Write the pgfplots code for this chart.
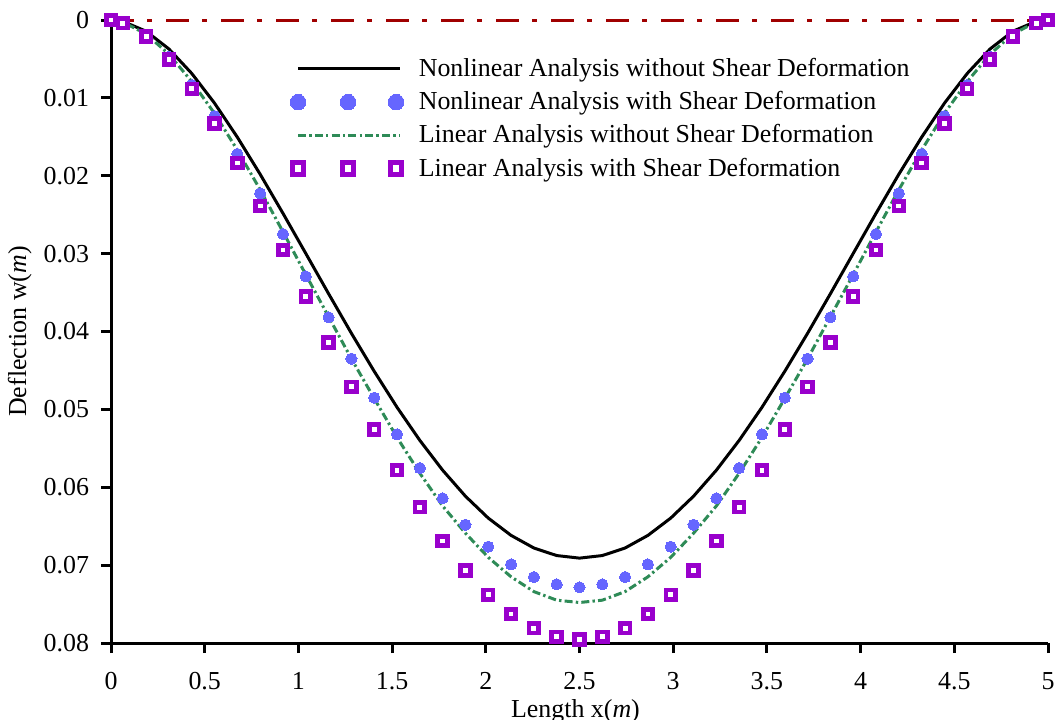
\documentclass[border=0pt]{standalone}
\usepackage{pgfplots}
\usepackage{pgfplotstable}
\pgfplotsset{compat=1.18}
\usepackage{fontspec}
\setmainfont{Liberation Serif}
\definecolor{cblack}{RGB}{0,0,0}
\definecolor{cblue}{RGB}{102,102,255}
\definecolor{cgreen}{RGB}{46,139,87}
\definecolor{cpurple}{RGB}{153,0,204}
\definecolor{cred}{RGB}{160,0,0}
\pgfplotstableread{
x nl nls l ls
0 0 0 0 0
0.0625 0.00017 0.0003 0.00025 0.0004
0.1875 0.00144 0.0020 0.0018 0.00214
0.3092 0.00372 0.0047 0.0044 0.00505
0.4309 0.00686 0.00835 0.0079 0.00882
0.5526 0.01068 0.01233 0.0120 0.01327
0.6743 0.01505 0.0172 0.0167 0.01836
0.7961 0.01981 0.02226 0.0218 0.02388
0.9178 0.02483 0.02748 0.0272 0.02953
1.0395 0.02998 0.03292 0.0327 0.03548
1.1612 0.03515 0.03818 0.0381 0.04139
1.2829 0.04023 0.04349 0.0435 0.04709
1.4046 0.04511 0.0485 0.0486 0.05260
1.5263 0.04973 0.0532 0.0536 0.05782
1.6480 0.05398 0.05753 0.0582 0.06257
1.7697 0.05781 0.06142 0.0624 0.06690
1.8914 0.06115 0.06481 0.0659 0.07067
2.0132 0.06396 0.06763 0.0690 0.07380
2.1349 0.06618 0.0699 0.0715 0.07628
2.2566 0.06780 0.07153 0.0734 0.07811
2.3783 0.06877 0.07246 0.0745 0.07919
2.5 0.0691 0.07285 0.0748 0.07953
2.6217 0.06877 0.07246 0.0745 0.07919
2.7434 0.06780 0.07153 0.0734 0.07811
2.8651 0.06618 0.0699 0.0715 0.07628
2.9868 0.06396 0.06763 0.0690 0.07380
3.1086 0.06115 0.06481 0.0659 0.07067
3.2303 0.05781 0.06142 0.0624 0.06690
3.3520 0.05398 0.05753 0.0582 0.06257
3.4737 0.04973 0.0532 0.0536 0.05782
3.5954 0.04511 0.0485 0.0486 0.05260
3.7171 0.04023 0.04349 0.0435 0.04709
3.8388 0.03515 0.03818 0.0381 0.04139
3.9605 0.02998 0.03292 0.0327 0.03548
4.0822 0.02483 0.02748 0.0272 0.02953
4.2039 0.01981 0.02226 0.0218 0.02388
4.3257 0.01505 0.0172 0.0167 0.01836
4.4474 0.01068 0.01233 0.0120 0.01327
4.5691 0.00686 0.00835 0.0079 0.00882
4.6908 0.00372 0.0047 0.0044 0.00505
4.8125 0.00144 0.0020 0.0018 0.00214
4.9375 0.00017 0.0003 0.00025 0.0004
5 0 0 0 0
}\datatable
\pgfplotsset{
  legblack/.style={legend image code/.code={\draw[cblack, line width=1.5bp] (0bp,0bp) -- (51bp,0bp);}},
  leggreen/.style={legend image code/.code={\draw[cgreen, line width=1.5bp, dash pattern=on 4bp off 1.6bp on 1.2bp off 1.6bp] (0bp,0bp) -- (51bp,0bp);}},
  legblue/.style={legend image code/.code={\path[cblue, only marks, mark=*, mark size=3.9bp, mark options={draw=cblue, fill=cblue, line width=0pt}] plot coordinates {(0bp,0bp) (25bp,0bp) (49bp,0bp)};}},
  legpurple/.style={legend image code/.code={\path[cpurple, only marks, mark=square*, mark size=2.8bp, mark options={draw=cpurple, fill=white, line width=2.6bp}] plot coordinates {(0bp,0bp) (25bp,0bp) (49bp,0bp)};}},
}
\begin{document}
\begin{tikzpicture}
\path[use as bounding box] (-55.5bp,-38.5bp) rectangle (473bp,321.5bp);
\begin{axis}[
  at={(0,0)}, anchor=south west,
  scale only axis, width=468.5bp, height=311.5bp,
  xmin=0, xmax=5, ymin=0, ymax=0.08,
  y dir=reverse,
  clip=false,
  scaled x ticks=false, scaled y ticks=false,
  axis x line*=bottom, axis y line*=left,
  axis line style={line width=1.5bp, -},
  tick style={line width=1.5bp, black},
  tick align=outside, major tick length=5bp,
  xtick={0,0.5,1,1.5,2,2.5,3,3.5,4,4.5,5},
  xticklabels={0,0.5,1,1.5,2,2.5,3,3.5,4,4.5,5},
  ytick={0,0.01,0.02,0.03,0.04,0.05,0.06,0.07,0.08},
  yticklabels={0,0.01,0.02,0.03,0.04,0.05,0.06,0.07,0.08},
  ticklabel style={font=\fontsize{13}{15}\selectfont},
  xticklabel style={yshift=-6bp},
  yticklabel style={xshift=-2.5bp},
  xlabel={Length x(\textit{m})},
  ylabel={Deflection w(\textit{m})},
  label style={font=\fontsize{13}{15}\selectfont},
  xlabel style={at={(axis description cs:0.4957,-0.109)}, anchor=center},
  ylabel style={at={(axis description cs:-0.0975,0.5)}, anchor=center},
  legend style={font=\fontsize{13}{15}\selectfont, draw=none, fill=none,
    at={(axis description cs:0.1845,0.952)}, anchor=north west,
    row sep=2bp, /tikz/every odd column/.append style={column sep=5.5bp}},
  legend cell align=left,
]
\addplot[forget plot, cred, line width=1.5bp, dash pattern=on 11.5bp off 6.5bp on 2.5bp off 7bp] coordinates {(0,0) (5,0)};
\addplot[cblack, line width=1.5bp, mark=none, legblack] table[x=x,y=nl] {\datatable};
\addlegendentry{Nonlinear Analysis without Shear Deformation}
\addplot[cblue, only marks, mark=*, mark size=2.8bp, mark options={draw=cblue, fill=cblue, line width=0pt}, legblue] table[x=x,y=nls] {\datatable};
\addlegendentry{Nonlinear Analysis with Shear Deformation}
\addplot[cgreen, line width=1.5bp, mark=none, dash pattern=on 4bp off 1.6bp on 1.2bp off 1.6bp, leggreen] table[x=x,y=l] {\datatable};
\addlegendentry{Linear Analysis without Shear Deformation}
\addplot[cpurple, only marks, mark=square*, mark size=2.4bp, mark options={draw=cpurple, fill=white, line width=2.4bp}, legpurple] table[x=x,y=ls] {\datatable};
\addlegendentry{Linear Analysis with Shear Deformation}
\end{axis}
\end{tikzpicture}
\end{document}
